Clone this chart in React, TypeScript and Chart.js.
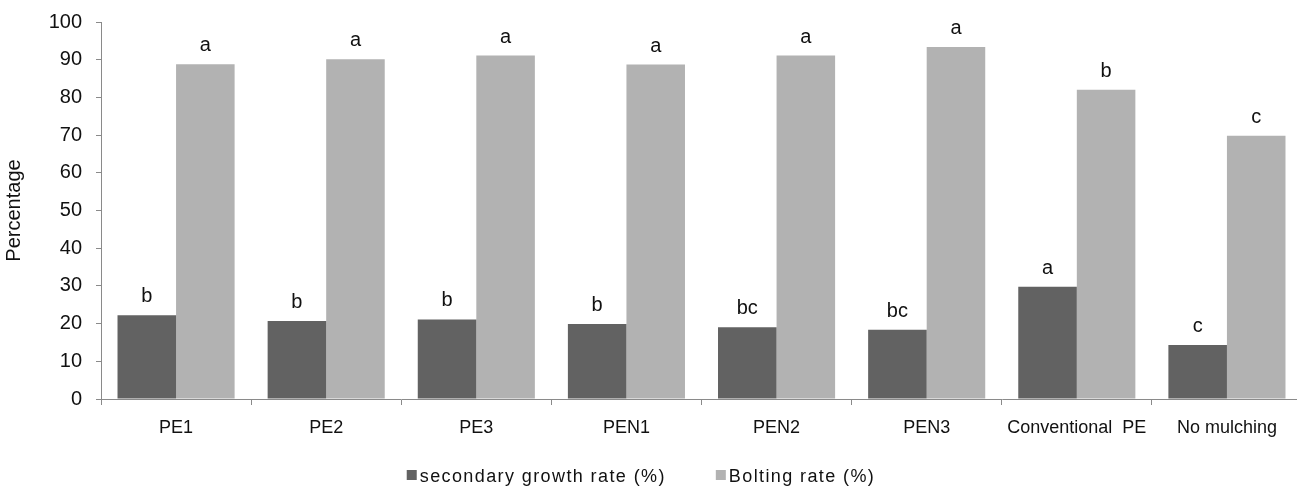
import React, { useEffect, useRef } from "react";
import { Chart, registerables } from "chart.js";

Chart.register(...registerables);

const categories = [
  "PE1",
  "PE2",
  "PE3",
  "PEN1",
  "PEN2",
  "PEN3",
  "Conventional  PE",
  "No mulching",
];
const secondaryGrowth = [22.2, 20.7, 21.1, 19.9, 19.0, 18.4, 29.8, 14.3];
const boltingRate = [88.8, 90.1, 91.1, 88.7, 91.1, 93.4, 82.0, 69.8];
const secondaryLetters = ["b", "b", "b", "b", "bc", "bc", "a", "c"];
const boltingLetters = ["a", "a", "a", "a", "a", "a", "b", "c"];
const seriesNames = ["secondary growth rate (%)", "Bolting rate (%)"];
const seriesColors = ["#626262", "#b2b2b2"];
const yMin = 0;
const yMax = 100;
const yStep = 10;

const FONT = "'Liberation Sans', Arial, sans-serif";
const AXIS_GREY = "#8a8a8a";

// Significance letters above each bar
const letterPlugin = {
  id: "letters",
  afterDatasetsDraw(chart: any) {
    const ctx = chart.ctx;
    const sets = [secondaryLetters, boltingLetters];
    ctx.save();
    ctx.font = `20px ${FONT}`;
    ctx.fillStyle = "#111";
    ctx.textAlign = "center";
    ctx.textBaseline = "alphabetic";
    chart.data.datasets.forEach((_: any, di: number) => {
      const meta = chart.getDatasetMeta(di);
      meta.data.forEach((bar: any, i: number) => {
        ctx.fillText(sets[di][i], bar.x, bar.y - 13);
      });
    });
    ctx.restore();
  },
};

// Legend row along the bottom edge
const bottomLegendPlugin = {
  id: "bottomLegend",
  afterDraw(chart: any) {
    const ctx = chart.ctx;
    const box = 10;
    const boxGap = 3;
    const itemGap = 50;
    const centerX = 641;
    const baseline = 482;
    ctx.save();
    ctx.font = `18px ${FONT}`;
    (ctx as any).letterSpacing = "1.4px";
    const widths = chart.data.datasets.map(
      (d: any) => ctx.measureText(d.label).width
    );
    const total =
      widths.reduce((a: number, w: number) => a + w + box + boxGap, 0) +
      itemGap * (widths.length - 1);
    let x = centerX - total / 2;
    chart.data.datasets.forEach((d: any, i: number) => {
      ctx.fillStyle = d.backgroundColor;
      ctx.fillRect(x, baseline - 12, box, box);
      ctx.fillStyle = "#111";
      ctx.textAlign = "left";
      ctx.textBaseline = "alphabetic";
      ctx.fillText(d.label, x + box + boxGap, baseline);
      x += box + boxGap + widths[i] + itemGap;
    });
    ctx.restore();
  },
};

export default function App() {
  const canvasRef = useRef<HTMLCanvasElement | null>(null);

  useEffect(() => {
    const canvas = canvasRef.current;
    if (!canvas) return;
    Chart.defaults.font.family = FONT;
    const chart = new Chart(canvas, {
      type: "bar",
      data: {
        labels: categories,
        datasets: [
          {
            label: seriesNames[0],
            data: secondaryGrowth,
            backgroundColor: seriesColors[0],
            borderWidth: 0,
            categoryPercentage: 0.78,
            barPercentage: 1.0,
          },
          {
            label: seriesNames[1],
            data: boltingRate,
            backgroundColor: seriesColors[1],
            borderWidth: 0,
            categoryPercentage: 0.78,
            barPercentage: 1.0,
          },
        ],
      },
      options: {
        responsive: false,
        animation: false,
        layout: { padding: { top: 22, left: 0, right: 0, bottom: 0 } },
        plugins: {
          legend: { display: false },
          tooltip: { enabled: false },
        },
        scales: {
          x: {
            grid: {
              display: true,
              drawOnChartArea: false,
              offset: true,
              tickLength: 6,
              color: AXIS_GREY,
            },
            border: { color: AXIS_GREY, width: 1 },
            ticks: {
              font: { size: 18, family: FONT },
              color: "#111",
              padding: 12,
              maxRotation: 0,
              autoSkip: false,
            },
            afterFit: (s: any) => {
              s.height = 87;
              s.paddingLeft = 0;
              s.paddingRight = 0;
            },
          },
          y: {
            min: yMin,
            max: yMax,
            grid: {
              drawOnChartArea: false,
              tickLength: 5,
              color: AXIS_GREY,
            },
            border: { color: AXIS_GREY, width: 1 },
            ticks: {
              stepSize: yStep,
              font: { size: 20, family: FONT },
              color: "#111",
              padding: 14,
            },
            title: {
              display: true,
              text: "Percentage",
              font: { size: 20, family: FONT },
              color: "#111",
              padding: { top: 2, bottom: 0 },
            },
            afterFit: (s: any) => {
              s.width = 101;
              s.paddingTop = 0;
              s.paddingBottom = 0;
            },
          },
        },
      },
      plugins: [letterPlugin, bottomLegendPlugin],
    });
    return () => chart.destroy();
  }, []);

  return (
    <div
      style={{
        position: "absolute",
        left: 0,
        top: 0,
        width: 1297,
        height: 486,
        overflow: "hidden",
        background: "#fff",
      }}
    >
      <canvas ref={canvasRef} width={1302} height={486} />
    </div>
  );
}
